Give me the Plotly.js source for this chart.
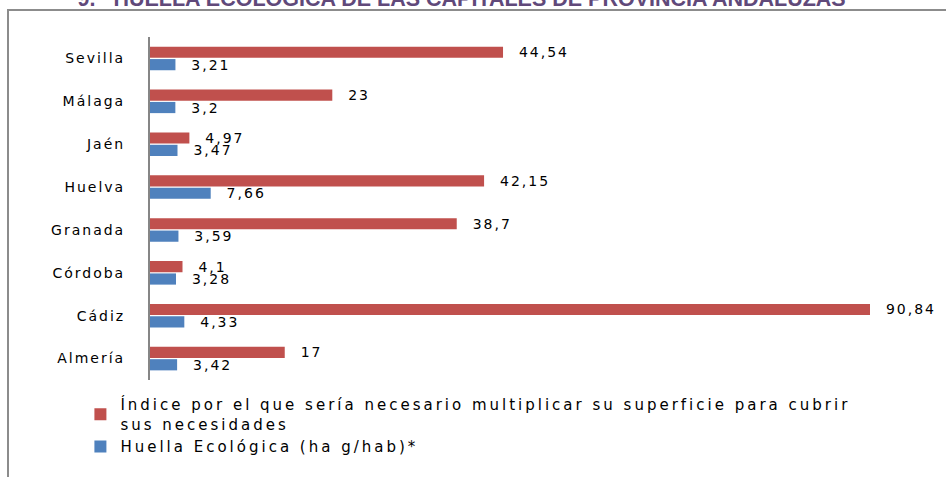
<!DOCTYPE html>
<html>
<head>
<meta charset="utf-8">
<script src="https://cdn.plot.ly/plotly-3.0.1.min.js"></script>
<style>
  body { margin: 0; background: #fff; }
  #wrap { position: relative; width: 946px; height: 477px; }
  #frame {
    position: absolute; left: 7px; top: 9px; right: 0; bottom: 0;
    border-top: 2px solid #8c8c8c; border-left: 2px solid #8c8c8c;
    pointer-events: none;
  }
  /* the original labels are widely spaced */
  svg text { letter-spacing: 2px; }
  svg .legendtext { letter-spacing: 3px; }
  svg .gtitle { letter-spacing: 0; }
</style>
</head>
<body>
<div id="wrap">
  <div id="chart"></div>
  <div id="frame"></div>
</div>
<script>
// Capitals, bottom to top as the axis draws them
const cities = ["Almería", "Cádiz", "Córdoba", "Granada", "Huelva", "Jaén", "Málaga", "Sevilla"];
// Índice por el que sería necesario multiplicar su superficie
const indice = [17, 90.84, 4.1, 38.7, 42.15, 4.97, 23, 44.54];
// Huella ecológica (ha g/hab)
const huella = [3.42, 4.33, 3.28, 3.59, 7.66, 3.47, 3.2, 3.21];

const pad = "\u00a0\u00a0";
const label = v => pad + String(v).replace(".", ",");

const huellaTrace = {
    type: "bar",
    orientation: "h",
    name: "Huella Ecológica (ha g/hab)*",
    y: cities,
    x: huella,
    marker: { color: "#4F81BD" },
    text: huella.map(label),
    textposition: "outside",
    constraintext: "none",
    cliponaxis: false,
    textfont: { family: "DejaVu Sans", size: 14, color: "#000" }
};

const indiceTrace = {
    type: "bar",
    orientation: "h",
    name: "Índice por el que sería necesario multiplicar su superficie para cubrir<br>sus necesidades",
    y: cities,
    x: indice,
    marker: { color: "#C0504D" },
    text: indice.map(label),
    textposition: "outside",
    constraintext: "none",
    cliponaxis: false,
    textfont: { family: "DejaVu Sans", size: 14, color: "#000" }
};

Plotly.newPlot("chart", [huellaTrace, indiceTrace], {
    width: 946,
    height: 477,
    margin: { l: 150, r: 76, t: 37, b: 97, autoexpand: false },
    paper_bgcolor: "rgba(0,0,0,0)",
    plot_bgcolor: "rgba(0,0,0,0)",
    font: { family: "DejaVu Sans", color: "#000" },
    barmode: "group",
    bargap: 0.42,
    bargroupgap: 0.1,
    showlegend: true,
    hovermode: false,

    title: {
        text: "<b>9.   HUELLA ECOLÓGICA DE LAS CAPITALES DE PROVINCIA ANDALUZAS</b>",
        font: { family: "Liberation Sans", size: 21.5, color: "#60497A" },
        xref: "container", yref: "container",
        x: 0.488, xanchor: "center",
        y: 0.987, yanchor: "bottom"
    },

    legend: {
        traceorder: "reversed",
        xref: "container", yref: "container",
        x: 0.085, xanchor: "left",
        y: 0.186, yanchor: "top",
        font: { family: "DejaVu Sans", size: 15, color: "#000" },
        tracegroupgap: 0
    },

    xaxis: {
        visible: false,
        range: [0, 90.84],
        fixedrange: true
    },

    yaxis: {
        type: "category",
        showline: true,
        linecolor: "#868686",
        linewidth: 2,
        showgrid: false,
        zeroline: false,
        ticks: "",
        ticklabelstandoff: 20,
        tickfont: { family: "DejaVu Sans", size: 14, color: "#000" },
        fixedrange: true
    }
}, { displayModeBar: false, staticPlot: true });
</script>
</body>
</html>
